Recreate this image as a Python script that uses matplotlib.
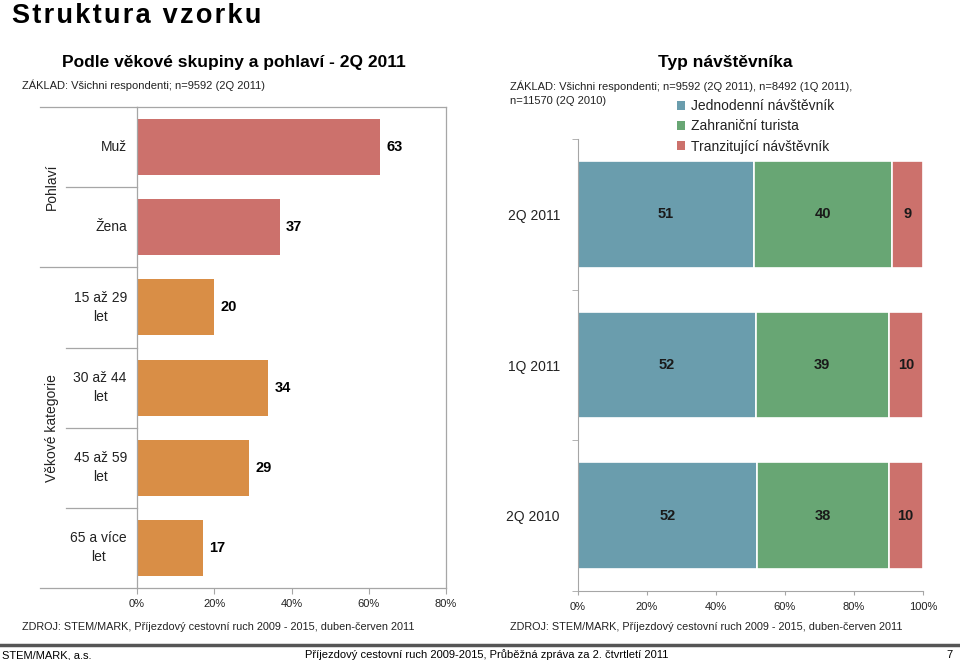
import matplotlib
matplotlib.use('Agg')
import matplotlib.pyplot as plt
from matplotlib.patches import Patch
from matplotlib.lines import Line2D
import numpy as np

plt.rcParams['font.family'] = ['Liberation Sans', 'DejaVu Sans']

# levý graf - věk a pohlaví
kategorie = ['Muž', 'Žena', '15 až 29\nlet', '30 až 44\nlet', '45 až 59\nlet', '65 a více\nlet']
podily = [63, 37, 20, 34, 29, 17]
barvy_kat = ['#CC716C', '#CC716C', '#D98E46', '#D98E46', '#D98E46', '#D98E46']
skupiny = ['Pohlaví', 'Věkové kategorie']

# pravý graf - typ návštěvníka
obdobi = ['2Q 2011', '1Q 2011', '2Q 2010']
typy = ['Jednodenní návštěvník', 'Zahraniční turista', 'Tranzitující návštěvník']
jednodenni = [51, 52, 52]
zahranicni = [40, 39, 38]
tranzit = [9, 10, 10]
barvy_typ = ['#6A9DAD', '#68A674', '#CC716C']

W, H = 960, 660
fig = plt.figure(figsize=(9.6, 6.6), dpi=100)

def fx(px):
    return px / W

def fy(py):
    return 1 - py / H

grey = '#A6A6A6'
txt = '#222222'

# nadpisy (hlavní nadpis s prostrkáním písmen)
nadpis = '\u200a'.join('Struktura vzorku')
fig.text(fx(12), fy(23), nadpis, fontsize=19.5, fontweight='bold', va='baseline', ha='left')
fig.text(fx(234), fy(67), 'Podle věkové skupiny a pohlaví - 2Q 2011', fontsize=12.5, fontweight='bold',
         va='baseline', ha='center')
fig.text(fx(22), fy(89), 'ZÁKLAD: Všichni respondenti; n=9592 (2Q 2011)', fontsize=8, va='baseline',
         color=txt)
fig.text(fx(725), fy(67), 'Typ návštěvníka', fontsize=12.5, fontweight='bold', va='baseline', ha='center')
fig.text(fx(510), fy(90), 'ZÁKLAD: Všichni respondenti; n=9592 (2Q 2011), n=8492 (1Q 2011),',
         fontsize=8, va='baseline', color=txt)
fig.text(fx(510), fy(104), 'n=11570 (2Q 2010)', fontsize=8, va='baseline', color=txt)

# ---- levý graf
ax = fig.add_axes([fx(137), fy(588), fx(446 - 137), (588 - 107) / H])
y = np.arange(len(kategorie))
ax.barh(y, podily, height=0.7, color=barvy_kat)
ax.set_ylim(len(kategorie) - 0.5, -0.5)
ax.set_xlim(0, 80)
for i, v in enumerate(podily):
    ax.text(v + 1.6, i, str(v), va='center', ha='left', fontsize=10.5, fontweight='bold')
    ax.text(-0.033, i, kategorie[i], transform=ax.get_yaxis_transform(), ha='right', va='center',
            multialignment='center', fontsize=10, color=txt, linespacing=1.45)
ax.set_yticks([])
ax.set_xticks([0, 20, 40, 60, 80])
ax.set_xticklabels(['0%', '20%', '40%', '60%', '80%'], fontsize=8)
ax.tick_params(axis='x', length=4, color=grey, pad=4, labelcolor=txt)
for s in ax.spines.values():
    s.set_color(grey)
    s.set_linewidth(0.9)
# oddělovače řádků
for yy, x0 in [(0.5, -0.23), (1.5, -0.314), (2.5, -0.23), (3.5, -0.23), (4.5, -0.23), (-0.5, -0.314),
               (5.5, -0.314)]:
    ax.plot([x0, 0], [yy, yy], transform=ax.get_yaxis_transform(), color=grey, lw=0.9, clip_on=False)
ax.text(-0.275, 0.5, skupiny[0], transform=ax.get_yaxis_transform(), rotation=90, ha='center',
        va='center', fontsize=10, color=txt)
ax.text(-0.275, 3.5, skupiny[1], transform=ax.get_yaxis_transform(), rotation=90, ha='center',
        va='center', fontsize=10, color=txt)

# ---- pravý graf
ax2 = fig.add_axes([fx(578), fy(591), fx(923 - 578), (591 - 139) / H])
data = np.array([jednodenni, zahranicni, tranzit], dtype=float)
shares = data / data.sum(axis=0) * 100
left = np.zeros(len(obdobi))
y2 = np.arange(len(obdobi))
for k in range(len(typy)):
    ax2.barh(y2, shares[k], left=left, height=0.71, color=barvy_typ[k], edgecolor='white', linewidth=1.2,
             label=typy[k])
    for i in range(len(obdobi)):
        ax2.text(left[i] + shares[k][i] / 2, i, str(int(data[k][i])), ha='center', va='center',
                 fontsize=10.5, fontweight='bold', color='#1a1a1a')
    left += shares[k]
ax2.set_ylim(len(obdobi) - 0.5, -0.5)
ax2.set_xlim(0, 100)
ax2.set_yticks(y2)
ax2.set_yticklabels(obdobi, fontsize=10, color=txt)
ax2.set_yticks([-0.5, 0.5, 1.5, 2.5], minor=True)
ax2.tick_params(axis='y', which='major', length=0, pad=13)
ax2.tick_params(axis='y', which='minor', length=4, color=grey)
ax2.set_xticks([0, 20, 40, 60, 80, 100])
ax2.set_xticklabels(['0%', '20%', '40%', '60%', '80%', '100%'], fontsize=8)
ax2.tick_params(axis='x', length=3, color=grey, pad=5, labelcolor=txt)
ax2.spines['top'].set_visible(False)
ax2.spines['right'].set_visible(False)
ax2.spines['left'].set_color(grey)
ax2.spines['bottom'].set_color(grey)

handles = [Patch(facecolor=c) for c in barvy_typ]
fig.legend(handles, typy, loc='upper left', bbox_to_anchor=(fx(677), fy(99)), frameon=False,
           fontsize=10, handlelength=0.6, handleheight=0.6, handletextpad=0.4, labelspacing=0.45,
           borderpad=0, borderaxespad=0, labelcolor=txt)

# zdroje a patička
zdroj = 'ZDROJ: STEM/MARK, Příjezdový cestovní ruch 2009 - 2015, duben-červen 2011'
fig.text(fx(22), fy(630), zdroj, fontsize=7.8, va='baseline', color=txt)
fig.text(fx(510), fy(630), zdroj, fontsize=7.8, va='baseline', color=txt)
fig.add_artist(Line2D([0, 1], [fy(645), fy(645)], transform=fig.transFigure, color='#555555', lw=2.5))
fig.text(fx(2), fy(658), 'STEM/MARK, a.s.', fontsize=8, va='baseline')
fig.text(fx(305), fy(658), 'Příjezdový cestovní ruch 2009-2015, Průběžná zpráva za 2. čtvrtletí 2011',
         fontsize=8, va='baseline')
fig.text(fx(953), fy(658), '7', fontsize=8, va='baseline', ha='right')

fig.savefig('out.png', dpi=100)
